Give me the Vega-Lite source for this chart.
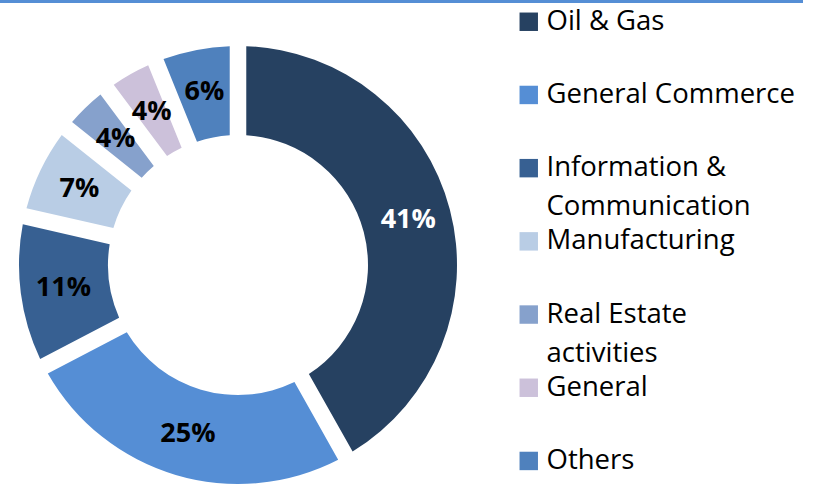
{
  "$schema": "https://vega.github.io/schema/vega-lite/v6.json",
  "padding": 0,
  "spacing": 0,
  "background": "white",
  "config": {"view": {"stroke": null}, "font": "Open Sans"},
  "datasets": {
    "sectors": [
      {"idx": 1, "sector": "Oil & Gas", "value": 0.41},
      {"idx": 2, "sector": "General Commerce", "value": 0.25},
      {"idx": 3, "sector": "Information & Communication", "value": 0.11},
      {"idx": 4, "sector": "Manufacturing", "value": 0.07},
      {"idx": 5, "sector": "Real Estate activities", "value": 0.04},
      {"idx": 6, "sector": "General", "value": 0.04},
      {"idx": 7, "sector": "Others", "value": 0.06}
    ]
  },
  "vconcat": [
    {
      "width": 803,
      "height": 3,
      "data": {"values": [{}]},
      "mark": {"type": "rect", "color": "#558ED5"},
      "encoding": {}
    },
    {
      "width": 476,
      "height": 482,
      "data": {"name": "sectors"},
      "encoding": {
        "theta": {"field": "value", "type": "quantitative", "stack": true},
        "order": {"field": "idx", "type": "quantitative"}
      },
      "layer": [
        {
          "mark": {"type": "arc", "innerRadius": 130, "outerRadius": 219, "padAngle": 0.065, "yOffset": 21},
          "encoding": {
            "color": {
              "field": "sector",
              "type": "nominal",
              "scale": {
                "domain": ["Oil & Gas", "General Commerce", "Information & Communication", "Manufacturing", "Real Estate activities", "General", "Others"],
                "range": ["#264161", "#558ED5", "#376092", "#B9CDE5", "#86A1CC", "#CCC1DA", "#4F81BD"]
              },
              "legend": {
                "orient": "none",
                "legendX": 515,
                "legendY": 8,
                "title": null,
                "symbolType": "square",
                "symbolSize": 340,
                "symbolStrokeWidth": 0,
                "symbolOpacity": 1,
                "labelFont": "Open Sans",
                "labelFontSize": 27.5,
                "labelColor": "black",
                "labelLimit": 400,
                "labelOffset": 4,
                "labelBaseline": "alphabetic",
                "rowPadding": 5.2,
                "padding": 0,
                "labelExpr": "datum.label == 'Information & Communication' ? ['Information &', 'Communication'] : datum.label == 'Real Estate activities' ? ['Real Estate', 'activities'] : [datum.label, '']",
                "encode": {"labels": {"update": {"dy": {"value": 8}, "lineHeight": {"value": 39}}}}
              }
            }
          }
        },
        {
          "mark": {"type": "text", "radius": 176, "fontSize": 27, "fontWeight": "bold", "font": "Open Sans", "yOffset": 21},
          "encoding": {
            "text": {"field": "value", "type": "quantitative", "format": ".0%"},
            "color": {"condition": {"test": "datum.sector === 'Oil & Gas'", "value": "white"}, "value": "black"}
          }
        }
      ]
    }
  ]
}
